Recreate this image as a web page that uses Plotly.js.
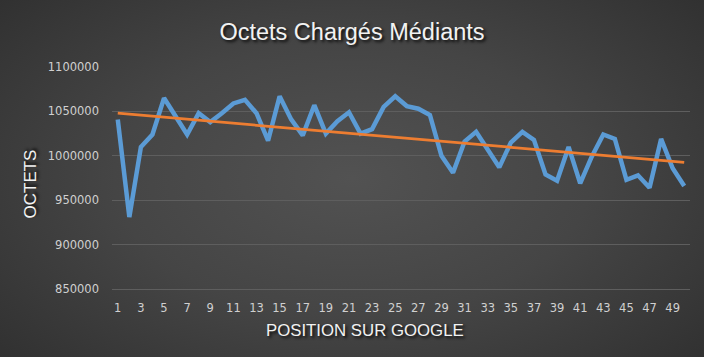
<!DOCTYPE html>
<html>
<head>
<meta charset="utf-8">
<script src="https://cdn.plot.ly/plotly-3.0.1.min.js"></script>
<style>
  html, body { margin: 0; padding: 0; }
  body {
    width: 704px; height: 357px; overflow: hidden;
    background: radial-gradient(ellipse 75% 85% at 50% 50%, #525252 0%, #454545 45%, #2c2c2c 100%);
  }
  #chart { width: 704px; height: 357px; }
</style>
</head>
<body>
<div id="chart"></div>
<script>
// Data
const positions = [1,2,3,4,5,6,7,8,9,10,11,12,13,14,15,16,17,18,19,20,21,22,23,24,25,26,27,28,29,30,31,32,33,34,35,36,37,38,39,40,41,42,43,44,45,46,47,48,49,50];
const octets = [1041000, 931000, 1010000, 1024000, 1065000, 1044000, 1024000, 1048000, 1038000, 1048000,
                1059000, 1063000, 1048000, 1017000, 1067000, 1041000, 1023000, 1057000, 1025000, 1039000,
                1049000, 1025000, 1030000, 1055000, 1067000, 1056000, 1053000, 1046000, 1000000, 981000,
                1016000, 1027000, 1007000, 987000, 1015000, 1027000, 1018000, 979000, 972000, 1010000,
                969000, 999000, 1024000, 1019000, 973000, 978000, 964000, 1019000, 986000, 966000];
// Linear trend line endpoints
const trendX = [1, 50];
const trendY = [1048000, 992600];
const xTickVals = [1,3,5,7,9,11,13,15,17,19,21,23,25,27,29,31,33,35,37,39,41,43,45,47,49];
const xTickText = xTickVals.map(String);
const yTickVals = [850000, 900000, 950000, 1000000, 1050000, 1100000];
const yTickText = ['850000', '900000', '950000', '1000000', '1050000', '1100000'];

const traces = [
  {
    x: positions, y: octets, type: 'scatter', mode: 'lines',
    line: { color: '#5b9bd5', width: 4.5, shape: 'linear' },
    hoverinfo: 'x+y'
  },
  {
    x: trendX, y: trendY, type: 'scatter', mode: 'lines',
    line: { color: '#ed7d31', width: 2.75 },
    hoverinfo: 'skip'
  }
];

const tickFont = { family: 'DejaVu Sans, sans-serif', size: 11.5, color: '#d0d0d0' };
const titleShadow = '2px 2px 3px rgba(0,0,0,0.85)';
const axisTitleFont = { family: 'Liberation Sans, Arial, sans-serif', size: 16.8, color: '#f2f2f2', shadow: titleShadow };

const layout = {
  width: 704, height: 357,
  paper_bgcolor: 'rgba(0,0,0,0)',
  plot_bgcolor: 'rgba(0,0,0,0)',
  showlegend: false,
  margin: { l: 112, r: 14, t: 67, b: 68, pad: 0 },
  title: {
    text: 'Octets Chargés Médiants',
    font: { family: 'Liberation Sans, Arial, sans-serif', size: 23.5, color: '#f2f2f2', shadow: titleShadow },
    x: 0.5, xanchor: 'center', xref: 'container',
    y: 1 - 32 / 357, yanchor: 'middle', yref: 'container'
  },
  xaxis: {
    type: 'linear', range: [0.5, 50.5], autorange: false,
    tickmode: 'array', tickvals: xTickVals, ticktext: xTickText,
    showgrid: false, zeroline: false,
    showline: true, linecolor: '#5e5e5e', linewidth: 1,
    ticks: '', ticklabelstandoff: 8,
    tickfont: tickFont,
    automargin: false
  },
  yaxis: {
    range: [850000, 1100000], autorange: false,
    tickmode: 'array', tickvals: yTickVals, ticktext: yTickText,
    showgrid: true, gridcolor: '#5e5e5e', gridwidth: 1,
    zeroline: false, showline: false,
    ticks: '', ticklabelstandoff: 12,
    tickfont: tickFont,
    automargin: false
  },
  annotations: [
    {
      text: 'POSITION SUR GOOGLE', showarrow: false,
      xref: 'paper', yref: 'paper',
      x: (365 - 112) / 578, y: -(330 - 289) / 222,
      xanchor: 'center', yanchor: 'middle',
      font: axisTitleFont
    },
    {
      text: 'OCTETS', showarrow: false, textangle: -90,
      xref: 'paper', yref: 'paper',
      x: (30 - 112) / 578, y: (289 - 184.5) / 222,
      xanchor: 'center', yanchor: 'middle',
      font: Object.assign({}, axisTitleFont, { size: 17 })
    }
  ]
};

Plotly.newPlot('chart', traces, layout, { staticPlot: true, displayModeBar: false });
</script>
</body>
</html>
